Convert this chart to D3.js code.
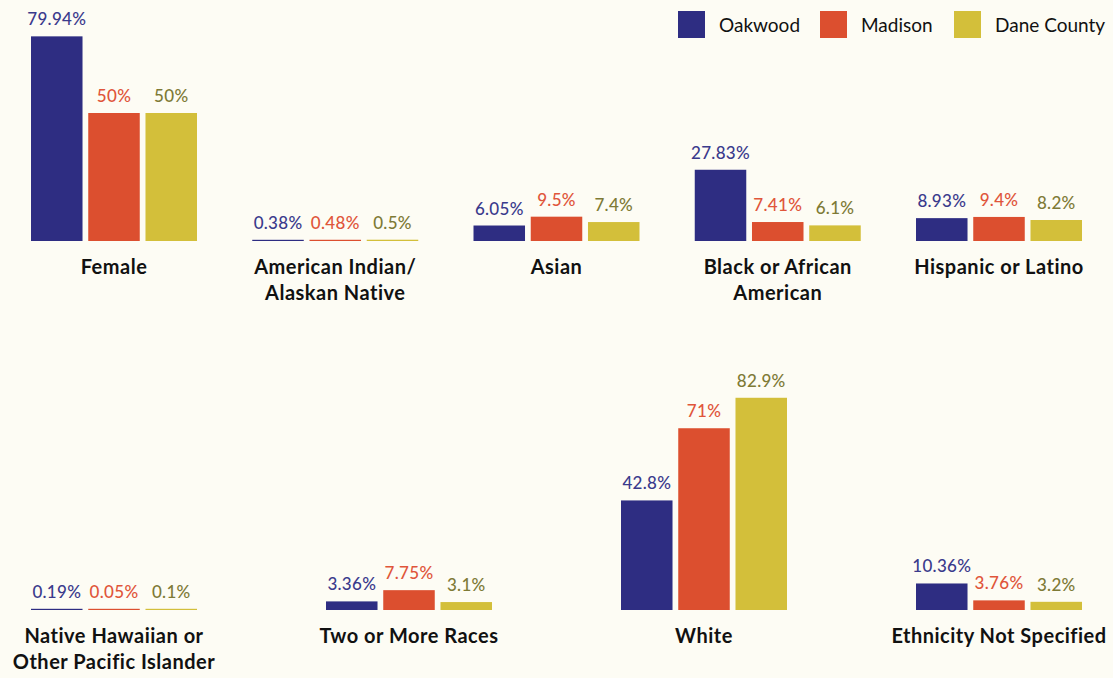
<!DOCTYPE html>
<html>
<head>
<meta charset="utf-8">
<script src="https://cdn.jsdelivr.net/npm/d3@7"></script>
<style>
  body { margin: 0; background: #fdfcf4; }
  svg { display: block; font-family: Lato, "Noto Sans", sans-serif; }
</style>
</head>
<body>
<div id="chart"></div>
<script>
// categories, split by row (line breaks as drawn)
var row1 = [["Female"], ["American Indian/", "Alaskan Native"], ["Asian"], ["Black or African", "American"], ["Hispanic or Latino"]];
var row2 = [["Native Hawaiian or", "Other Pacific Islander"], ["Two or More Races"], ["White"], ["Ethnicity Not Specified"]];

var series = ["Oakwood", "Madison", "Dane County"];

// values in %, same order as row1 then row2
var oakwood = [79.94, 0.38, 6.05, 27.83, 8.93, 0.19, 3.36, 42.8, 10.36];
var madison = [50, 0.48, 9.5, 7.41, 9.4, 0.05, 7.75, 71, 3.76];
var dane    = [50, 0.5, 7.4, 6.1, 8.2, 0.1, 3.1, 82.9, 3.2];

var values = [oakwood, madison, dane];
var fill = ["#2e2d82", "#dc4f2f", "#d3bf3a"];
var textColor = ["#3a3a8c", "#e0553a", "#7e7a36"];

var width = 1113, height = 678;

var svg = d3.select("#chart")
  .append("svg")
    .attr("width", width)
    .attr("height", height);

// bar heights: 0-100% over 256px
var y = d3.scaleLinear().domain([0, 100]).range([0, 256]);

// bars inside each group
var x1 = d3.scaleBand()
  .domain(series)
  .range([-83, 83])
  .paddingInner(0.1);

function drawRow(cats, offset, baseline) {
  var names = cats.map(function(c) { return c.join(" "); });
  var x0 = d3.scalePoint()
    .domain(names)
    .range([114, 999]);

  var groups = svg.append("g")
    .selectAll("g")
    .data(cats)
    .enter()
    .append("g")
      .attr("transform", function(d) { return "translate(" + x0(d.join(" ")) + "," + baseline + ")"; });

  series.forEach(function(s, si) {
    groups.append("rect")
      .attr("x", x1(s))
      .attr("width", x1.bandwidth())
      .attr("y", function(d, i) { return -Math.max(1.2, y(values[si][offset + i])); })
      .attr("height", function(d, i) { return Math.max(1.2, y(values[si][offset + i])); })
      .attr("fill", fill[si]);

    groups.append("text")
      .attr("x", x1(s) + x1.bandwidth() / 2)
      .attr("y", function(d, i) { return -Math.max(1.2, y(values[si][offset + i])) - 11; })
      .attr("text-anchor", "middle")
      .attr("fill", textColor[si])
      .style("font-size", "17px")
      .style("font-weight", 500)
      .style("letter-spacing", "0.3px")
      .text(function(d, i) { return values[si][offset + i] + "%"; });
  });

  groups.append("text")
    .attr("text-anchor", "middle")
    .style("font-size", "20px")
    .style("font-weight", 700)
    .style("letter-spacing", "0.5px")
    .attr("fill", "#111")
    .selectAll("tspan")
    .data(function(d) { return d; })
    .enter()
    .append("tspan")
      .attr("x", 0)
      .attr("y", function(d, i) { return 33 + i * 26; })
      .text(function(d) { return d; });
}

drawRow(row1, 0, 241);
drawRow(row2, 5, 610);

// legend
var legendX = [678, 820, 954];
var legend = svg.append("g")
  .selectAll("g")
  .data(series)
  .enter()
  .append("g")
    .attr("transform", function(d, i) { return "translate(" + legendX[i] + ",11)"; });

legend.append("rect")
  .attr("width", 27)
  .attr("height", 27)
  .attr("fill", function(d, i) { return fill[i]; });

legend.append("text")
  .attr("x", 41)
  .attr("y", 21)
  .style("font-size", "19px")
  .attr("fill", "#111")
  .text(function(d) { return d; });
</script>
</body>
</html>
